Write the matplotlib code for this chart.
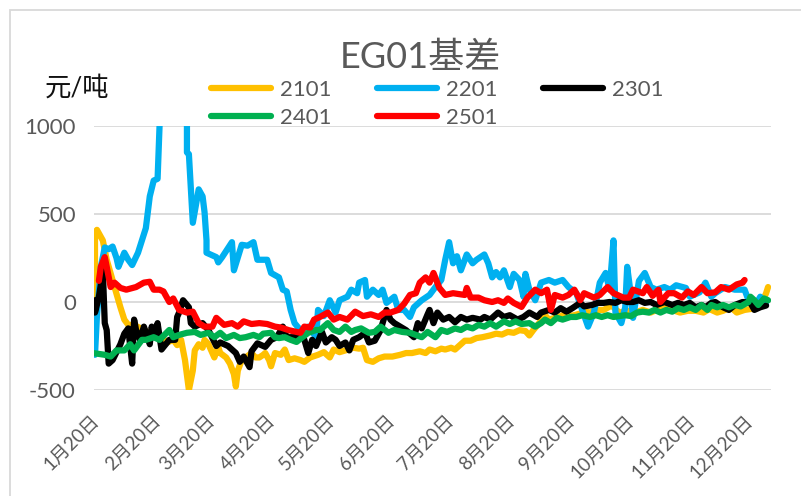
import matplotlib
matplotlib.use("Agg")
import matplotlib.pyplot as plt
from matplotlib.patches import Rectangle
import pandas as pd

plt.rcParams['font.family'] = ['Lato', 'Noto Sans CJK SC']
plt.rcParams['axes.unicode_minus'] = False

# EG01 basis by contract year: (days since 1 Jan, yuan/ton)
s2101 = [(18, -100), (18, 390), (19, 410), (22, 350), (24, 240), (28, 85), (31, -30), (33, -100),
         (35, -130), (38, -130), (43, -160), (49, -190), (51, -190), (55, -230), (58, -215), (60, -245),
         (62, -215), (64, -330), (66, -500), (68, -390), (69, -275), (71, -240), (73, -260), (74, -215),
         (76, -240), (79, -315), (81, -255), (82, -290), (85, -315), (87, -350), (89, -410), (90, -480),
         (91, -390), (93, -330), (95, -315), (98, -290), (100, -315), (102, -315), (104, -300), (105, -290),
         (107, -330), (108, -365), (110, -290), (113, -300), (115, -270), (117, -330), (120, -320), (123, -330),
         (125, -340), (128, -315), (132, -300), (135, -285), (138, -315), (140, -270), (143, -285), (146, -275),
         (150, -260), (153, -265), (155, -260), (157, -330), (160, -340), (163, -320), (166, -310), (170, -310),
         (174, -300), (177, -290), (180, -290), (184, -280), (187, -290), (189, -270), (192, -280), (195, -265),
         (197, -270), (200, -260), (202, -270), (205, -240), (207, -220), (210, -220), (213, -205), (216, -200),
         (220, -190), (223, -180), (226, -185), (229, -170), (232, -175), (235, -160), (238, -165), (240, -190),
         (242, -160), (245, -120), (248, -75), (250, -100), (253, -90), (255, -85), (258, -70), (260, -80),
         (263, -75), (266, -65), (269, -55), (271, -60), (274, -45), (278, -45), (282, -20), (286, -60),
         (290, -50), (294, -60), (298, -45), (302, -60), (306, -40), (310, -10), (313, -45), (317, -60),
         (321, -50), (325, -50), (329, -60), (332, -40), (336, -60), (339, -50), (343, -30), (346, -60),
         (350, -45), (353, -40), (356, -30), (359, 0), (361, 50), (362, 85)]

s2201 = [(18, -300), (19, -80), (21, 200), (23, 310), (25, 300), (27, 315), (29, 250), (30, 200),
         (33, 280), (35, 240), (37, 210), (40, 280), (44, 420), (46, 600), (48, 690), (50, 700),
         (51, 1000), (54, 1400), (58, 1500), (62, 1300), (65, 1020), (65, 850), (66, 840), (67, 650),
         (68, 450), (71, 640), (73, 600), (74, 510), (75, 350), (75, 280), (80, 255), (81, 225),
         (83, 255), (88, 340), (89, 180), (93, 325), (96, 320), (99, 340), (101, 240), (106, 240),
         (108, 165), (112, 140), (114, 70), (116, 60), (118, -45), (120, -120), (123, -160), (127, -140),
         (131, -200), (132, -45), (135, -80), (138, 10), (141, -60), (143, 10), (147, 30), (149, 70),
         (152, 50), (153, 110), (156, 125), (157, 30), (160, 70), (163, 40), (165, 70), (167, -5),
         (171, 30), (173, -45), (176, -45), (179, -85), (181, -30), (185, 10), (189, 40), (192, 85),
         (195, 125), (197, 240), (199, 340), (201, 220), (203, 260), (205, 180), (208, 270), (211, 220),
         (213, 240), (217, 270), (219, 220), (221, 140), (223, 170), (225, 140), (227, 180), (230, 85),
         (232, 160), (235, 125), (237, 30), (238, 160), (240, 70), (243, 10), (246, 110), (250, 125),
         (253, 110), (257, 125), (260, 85), (264, 50), (267, -45), (270, -140), (273, -60), (276, 110),
         (279, 165), (281, 70), (283, 350), (284, -60), (287, -120), (289, -30), (290, 200), (292, 30),
         (293, -90), (296, 120), (299, 165), (302, 85), (305, 70), (309, 85), (312, 70), (315, 95),
         (320, 80), (322, 30), (327, 55), (330, 110), (333, 30), (335, 50), (340, 85), (345, 70),
         (350, 70), (352, 10), (355, -30), (358, 30), (361, -5)]

s2301 = [(18, 10), (18, -60), (20, 30), (21, 100), (22, 180), (23, -120), (24, -160), (25, -350),
         (27, -330), (31, -240), (33, -180), (35, -150), (37, -350), (38, -100), (39, -160), (41, -215),
         (43, -140), (46, -240), (47, -140), (48, -200), (50, -120), (52, -270), (56, -215), (59, -215),
         (60, -85), (61, -60), (63, 10), (66, -30), (67, -120), (69, -140), (73, -120), (76, -160),
         (80, -250), (82, -230), (86, -250), (90, -290), (92, -340), (94, -310), (97, -370), (98, -280),
         (101, -235), (105, -255), (108, -215), (111, -200), (114, -140), (116, -200), (120, -200), (123, -175),
         (125, -215), (127, -290), (129, -215), (131, -250), (134, -170), (136, -230), (139, -200), (141, -215),
         (143, -250), (146, -230), (148, -275), (150, -215), (153, -200), (156, -175), (158, -230), (161, -220),
         (164, -160), (165, -120), (167, -45), (169, -100), (171, -120), (174, -140), (177, -160), (181, -200),
         (183, -120), (185, -150), (188, -70), (189, -45), (191, -120), (193, -60), (196, -100), (199, -85),
         (202, -115), (205, -85), (208, -100), (211, -90), (215, -100), (217, -85), (220, -100), (224, -60),
         (227, -85), (230, -75), (234, -100), (237, -85), (240, -60), (244, -85), (246, -60), (250, -45),
         (253, -60), (256, -35), (259, -55), (262, -35), (266, -5), (268, -25), (272, -17), (275, -5),
         (278, -5), (281, 0), (284, -5), (287, 10), (290, 0), (293, 0), (296, 10), (299, -5),
         (302, 0), (305, -17), (309, 0), (313, -17), (316, -5), (319, -17), (322, -5), (325, -30),
         (328, -17), (330, -30), (333, -5), (335, 0), (339, -30), (342, -45), (345, -17), (349, 0),
         (353, -5), (355, -45), (358, -30), (361, -20)]

s2401 = [(17, -290), (23, -300), (26, -310), (29, -275), (33, -275), (36, -240), (38, -275), (42, -215),
         (44, -215), (48, -200), (51, -215), (56, -159), (58, -200), (61, -187), (65, -175), (69, -170),
         (72, -187), (76, -175), (79, -200), (82, -175), (85, -205), (89, -187), (92, -205), (95, -200),
         (99, -187), (102, -200), (104, -180), (108, -175), (110, -200), (112, -205), (115, -200), (118, -215),
         (121, -227), (124, -200), (127, -175), (131, -159), (133, -159), (137, -120), (140, -159), (143, -170),
         (146, -140), (149, -170), (151, -159), (154, -150), (158, -175), (161, -170), (164, -140), (168, -175),
         (171, -159), (175, -170), (179, -175), (182, -187), (185, -200), (188, -170), (192, -200), (195, -159),
         (198, -170), (202, -150), (205, -159), (208, -140), (211, -150), (214, -130), (217, -140), (220, -120),
         (223, -140), (227, -110), (230, -125), (233, -110), (236, -125), (240, -120), (243, -140), (246, -120),
         (248, -100), (251, -120), (254, -90), (257, -100), (261, -85), (264, -85), (267, -75), (271, -85),
         (274, -75), (277, -85), (280, -75), (283, -85), (286, -80), (289, -75), (292, -80), (295, -60),
         (298, -55), (301, -60), (304, -45), (307, -60), (310, -45), (313, -55), (316, -35), (319, -45),
         (322, -30), (325, -45), (328, -17), (331, -45), (333, -17), (336, -30), (339, -17), (342, -30),
         (345, -17), (348, -25), (352, 0), (353, 30), (355, 10), (357, -17), (360, 20), (362, 10)]

s2501 = [(20, 120), (21, 200), (23, 255), (24, 200), (26, 85), (28, 110), (31, 80), (34, 70),
         (39, 85), (43, 110), (46, 115), (48, 70), (51, 70), (53, 60), (56, 0), (58, 20),
         (61, -45), (65, -60), (68, -55), (71, -120), (74, -140), (78, -140), (80, -90), (84, -130),
         (88, -120), (91, -140), (94, -110), (98, -125), (102, -120), (106, -125), (110, -140), (113, -145),
         (117, -160), (123, -175), (125, -140), (128, -145), (130, -100), (133, -85), (137, -60), (140, -100),
         (143, -85), (147, -100), (151, -55), (155, -80), (159, -70), (163, -85), (166, -60), (169, -60),
         (173, -45), (176, -10), (179, 40), (182, 50), (184, 110), (187, 140), (189, 110), (191, 165),
         (194, 80), (197, 40), (201, 50), (207, 40), (208, 80), (210, 25), (214, 25), (217, 10),
         (221, 0), (224, 10), (227, -5), (229, 20), (232, -5), (236, -28), (239, 25), (243, 70),
         (246, 50), (249, 70), (251, -45), (253, 40), (257, 25), (260, 40), (263, 70), (266, 10),
         (268, 50), (273, 25), (276, 40), (280, 85), (283, 50), (288, 25), (291, 25), (293, 70),
         (298, 50), (300, 85), (303, 35), (306, 70), (307, 0), (311, 50), (314, 50), (318, 25),
         (321, 60), (324, 40), (328, 85), (331, 50), (335, 55), (338, 85), (342, 70), (346, 100),
         (349, 110), (350, 125)]

contracts = ["2101", "2201", "2301", "2401", "2501"]
colors = ["#FFC000", "#00B0F0", "#000000", "#00B050", "#FF0000"]
data = [s2101, s2201, s2301, s2401, s2501]

months = list(range(1, 13))
tick_labels = [f"{m}月20日" for m in months]
tick_days = [(pd.Timestamp(2021, m, 20) - pd.Timestamp(2021, 1, 1)).days for m in months]

grey = "#595959"

fig = plt.figure(figsize=(8.01, 4.96), dpi=100)
fig.add_artist(Rectangle((10 / 801, -0.1), 1.2, 1.1 - 10 / 496, transform=fig.transFigure,
                         fill=False, ec="#d9d9d9", lw=1.3))

ax = fig.add_axes([94 / 801, 106 / 496, 677 / 801, 264 / 496])

lines = []
for name, pts, c in zip(contracts, data, colors):
    d = [p[0] for p in pts]
    v = [p[1] for p in pts]
    ln, = ax.plot(d, v, color=c, lw=4.5, label=name,
                  solid_joinstyle="round", solid_capstyle="round")
    lines.append(ln)

ax.set_xlim(17.5, 363.5)
ax.set_ylim(-500, 1000)
ax.set_yticks([-500, 0, 500, 1000])
ax.yaxis.grid(True, color="#d9d9d9", lw=1.3)
ax.set_axisbelow(True)
for s in ax.spines.values():
    s.set_visible(False)

ax.set_xticks(tick_days)
ax.set_xticklabels(tick_labels, rotation=45, ha="right", va="center",
                   rotation_mode="anchor", fontsize=13.5, color=grey)
ax.tick_params(axis="x", length=0, pad=20)
ax.tick_params(axis="y", length=0, pad=13, labelsize=16, labelcolor=grey)

# row-major legend: 2101 2201 2301 / 2401 2501
order = [0, 3, 1, 4, 2]
leg = ax.legend([lines[i] for i in order], [contracts[i] for i in order],
                ncol=3, loc="upper left", bbox_to_anchor=(211 / 801, 1 - 80 / 496),
                bbox_transform=fig.transFigure, frameon=False, fontsize=16,
                handlelength=2.7, handletextpad=0.4, columnspacing=2.05,
                labelspacing=0.35, borderpad=0, borderaxespad=0)
for t in leg.get_texts():
    t.set_color(grey)
for l in leg.get_lines():
    l.set_linewidth(4.5)
    l.set_solid_capstyle("round")

fig.text(420 / 801, 1 - 68 / 496, "EG01基差", fontsize=26, color=grey,
         ha="center", va="baseline")
fig.text(45 / 801, 1 - 88 / 496, "元/吨", fontsize=19, color="#111111",
         ha="left", va="center")

fig.savefig("out.png", dpi=100)
